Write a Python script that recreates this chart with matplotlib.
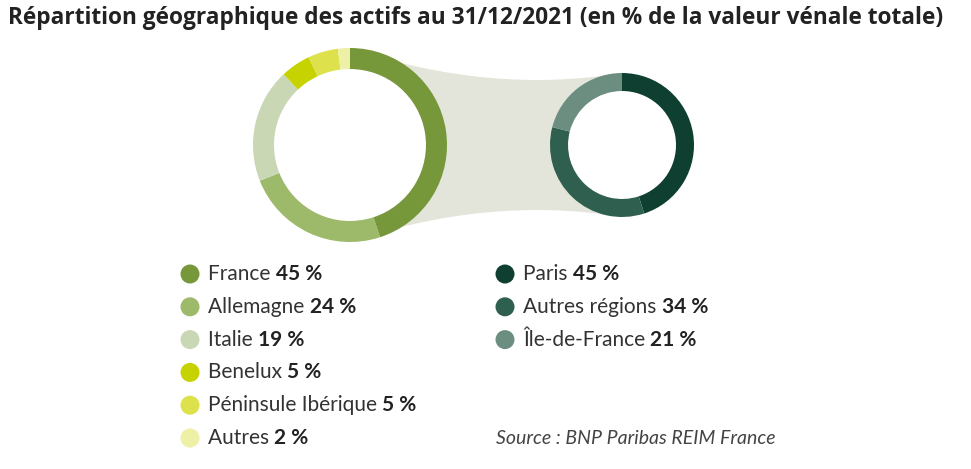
import matplotlib.pyplot as plt
from matplotlib.patches import Wedge, Circle, PathPatch
from matplotlib.path import Path

left_labels = ["France", "Allemagne", "Italie", "Benelux", "Péninsule Ibérique", "Autres"]
left_values = [45, 24, 19, 5, 5, 2]
left_colors = ["#76973a", "#9db96a", "#cad7b4", "#c6d300", "#dde14c", "#eef0a6"]
right_labels = ["Paris", "Autres régions", "Île-de-France"]
right_values = [45, 34, 21]
right_colors = ["#0e3f30", "#2f5f4f", "#6c8e81"]

W, H = 971, 469
fig = plt.figure(figsize=(W / 100, H / 100), dpi=100)
ax = fig.add_axes([0, 0, 1, 1])
ax.set_xlim(0, W)
ax.set_ylim(0, H)
ax.axis("off")
Y = lambda y: H - y

# connector band
lc, rc = (350, Y(145)), (622, Y(145))
verts = [(350, Y(48)), (490, Y(95)), (622, Y(73)), (622, Y(217)),
         (490, Y(195)), (350, Y(242)), (350, Y(48))]
codes = [Path.MOVETO, Path.CURVE3, Path.CURVE3, Path.LINETO,
         Path.CURVE3, Path.CURVE3, Path.CLOSEPOLY]
ax.add_patch(PathPatch(Path(verts, codes), fc="#e3e5da", ec="none", zorder=1))


def donut(c, r, w, vals, cols):
    ang = 90
    for v, col in zip(vals, cols):
        a2 = ang - v * 3.6
        ax.add_patch(Wedge(c, r, a2, ang, width=w, fc=col, ec="none", zorder=3))
        ang = a2
    ax.add_patch(Circle(c, r - w, fc="white", ec="none", zorder=2))


donut(lc, 97, 21, left_values, left_colors)
donut(rc, 72, 18, right_values, right_colors)

ax.text(8, Y(18), "Répartition géographique des actifs au 31/12/2021 (en % de la valeur vénale totale)",
        fontsize=16.3, fontweight="bold", family="Open Sans", va="center", color="#222222")

fig.canvas.draw()
rend = fig.canvas.get_renderer()


def entry(x, y, label, val, col):
    ax.add_patch(Circle((x, Y(y)), 9.5, fc=col, ec="none"))
    t = ax.text(x + 18, Y(y), label + " ", fontsize=15, family="Lato", va="center", color="#333333")
    bb = t.get_window_extent(rend)
    ax.text(bb.x1, Y(y), f"{val} %", fontsize=15, family="Lato", fontweight="bold",
            va="center", color="#222222")


for i, (l, v, c) in enumerate(zip(left_labels, left_values, left_colors)):
    entry(190, 274 + i * 32.8, l, v, c)
for i, (l, v, c) in enumerate(zip(right_labels, right_values, right_colors)):
    entry(505, 274 + i * 32.8, l, v, c)

ax.text(496, Y(438), "Source : BNP Paribas REIM France", fontsize=14, family="Lato",
        style="italic", va="center", color="#444444")

fig.savefig("out.png", dpi=100)
